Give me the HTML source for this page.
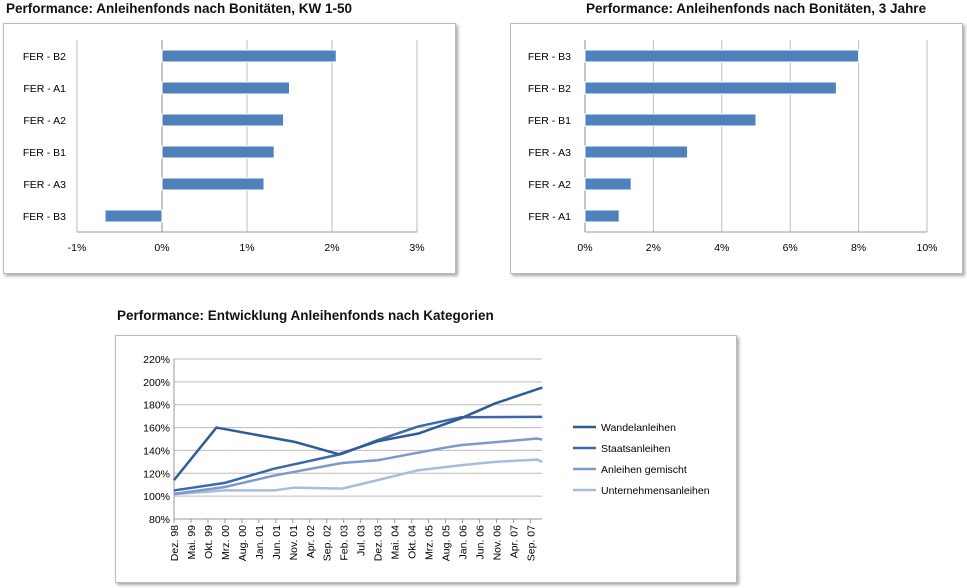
<!DOCTYPE html>
<html><head><meta charset="utf-8"><style>
body{margin:0;width:967px;height:588px;background:#fff;font-family:"Liberation Sans",sans-serif;overflow:hidden;position:relative}
.t{position:absolute;font-weight:bold;font-size:13.5px;color:#111}
.box{position:absolute;border:1px solid #bbb;box-shadow:2px 2px 3px #aaa;background:#fff}
svg{position:absolute;left:0;top:0}
text{font-family:"Liberation Sans",sans-serif;font-size:10.5px;fill:#000}
</style></head><body>
<div class="t" style="left:6px;top:1px">Performance: Anleihenfonds nach Bonitäten, KW 1-50</div>
<div class="t" style="left:586px;top:1px">Performance: Anleihenfonds nach Bonitäten, 3 Jahre</div>
<div class="t" style="left:117px;top:308px">Performance: Entwicklung Anleihenfonds nach Kategorien</div>
<div class="box" style="left:3px;top:23px;width:451px;height:249px"></div>
<div class="box" style="left:510px;top:23px;width:451px;height:249px"></div>
<div class="box" style="left:115px;top:335px;width:620px;height:246px"></div>
<svg id="s" width="967" height="588"></svg>
<script>
const cats1=["FER - B2","FER - A1","FER - A2","FER - B1","FER - A3","FER - B3"];
const vals1=[2.05,1.5,1.43,1.32,1.2,-0.67];
const ticks1=[-1,0,1,2,3];
const cats2=["FER - B3","FER - B2","FER - B1","FER - A3","FER - A2","FER - A1"];
const vals2=[8.0,7.35,5.0,3.0,1.35,1.0];
const ticks2=[0,2,4,6,8,10];
const xLabels=["Dez. 98","Mai. 99","Okt. 99","Mrz. 00","Aug. 00","Jan. 01","Jun. 01","Nov. 01","Apr. 02","Sep. 02","Feb. 03","Jul. 03","Dez. 03","Mai. 04","Okt. 04","Mrz. 05","Aug. 05","Jan. 06","Jun. 06","Nov. 06","Apr. 07","Sep. 07"];
const yTicks=[80,100,120,140,160,180,200,220];
const seriesNames=["Wandelanleihen","Staatsanleihen","Anleihen gemischt","Unternehmensanleihen"];
const wandelX=[0,2.5,7.1,9.7,12,14.4,16.9,18.9,21.7];
const wandelY=[114,160,147.5,136.7,148,154.8,168,181,195];
const staatX=[0,3,5.9,9.9,12,14.4,16.9,21.7];
const staatY=[105,111.6,124,137,149,161,169,169.4];
const gemX=[0,3,5.9,9.9,12,16,16.9,21.4,21.7];
const gemY=[102,108,118,129,131.4,142.5,144.6,150.4,149.5];
const untX=[0,3,5.9,7.1,9.9,12,14.4,16.9,18.9,21.4,21.7];
const untY=[101.6,105,105,107.5,106.6,114,122.7,127,130,132,130];
const colors=["#2f5b96","#3c68ab","#7d99cb","#a9bcdb"];
const s=document.getElementById('s');const NS="http://www.w3.org/2000/svg";
function el(t,a,txt){const e=document.createElementNS(NS,t);for(const k in a)e.setAttribute(k,a[k]);if(txt!==undefined)e.textContent=txt;s.appendChild(e);return e;}
function barChart(cats,vals,ticks,x0,x1,y0,y1,name){
 const mn=ticks[0],mx=ticks[ticks.length-1];
 const X=v=>x0+(v-mn)/(mx-mn)*(x1-x0);
 const band=(y1-y0)/cats.length;
 ticks.forEach(t=>{
  const g=el('line',{x1:X(t),x2:X(t),y1:y0,y2:y1,stroke:'#bbb'});
  
  const l=el('text',{x:X(t),y:y1+19,'text-anchor':'middle'},t+'%');
  
 });
 el('line',{x1:x0,x2:x1,y1:y1,y2:y1,stroke:'#999'});
 el('line',{x1:X(0),x2:X(0),y1:y0,y2:y1,stroke:'#888'});
 cats.forEach((c,i)=>{
  const cy=y0+band*(i+0.5);
  const l=el('text',{x:(name==='left'?66:571),y:cy+4,'text-anchor':'end'},c);
  
  const v=vals[i];const a=X(Math.min(0,v)),b=X(Math.max(0,v));
  const r=el('rect',{x:a,y:cy-6,width:b-a,height:12,fill:'#4f81bd',stroke:'#fff','stroke-width':1});
  
 });
}
barChart(cats1,vals1,ticks1,77,417,40,232,'left');
barChart(cats2,vals2,ticks2,585,927,40,232,'right');
const lx0=174,lx1=542,ly0=359,ly1=519,step=16.97;
const LX=i=>lx0+i*step;
const LY=v=>ly1-(v-80)/140*(ly1-ly0);
yTicks.forEach(t=>{
 const g=el('line',{x1:lx0,x2:lx1,y1:LY(t),y2:LY(t),stroke:'#bbb'});
 
 const l=el('text',{x:lx0-4,y:LY(t)+4,'text-anchor':'end'},t+'%');
 
});
el('line',{x1:lx0,x2:lx0,y1:ly0,y2:ly1,stroke:'#999'});
el('line',{x1:lx0,x2:lx1,y1:ly1,y2:ly1,stroke:'#999'});
xLabels.forEach((lab,i)=>{
 const x=LX(i);
 el('line',{x1:x,x2:x,y1:ly1,y2:ly1+4,stroke:'#999'});
 const l=el('text',{x:x+4,y:ly1+6,'text-anchor':'end',transform:`rotate(-90 ${x+4} ${ly1+6})`},lab);
 
});
const allX=[wandelX,staatX,gemX,untX],allY=[wandelY,staatY,gemY,untY];
for(let k=3;k>=0;k--){
 const pts=allX[k].map((x,i)=>LX(x)+','+LY(allY[k][i])).join(' ');
 const p=el('polyline',{points:pts,fill:'none',stroke:colors[k],'stroke-width':2.5,'stroke-linejoin':'round'});
 
}
seriesNames.forEach((n,i)=>{
 const y=427+i*21;
 const m=el('line',{x1:573,x2:596,y1:y,y2:y,stroke:colors[i],'stroke-width':2.5});
 
 const t=el('text',{x:601,y:y+4},n);
 
});
</script>
</body></html>
